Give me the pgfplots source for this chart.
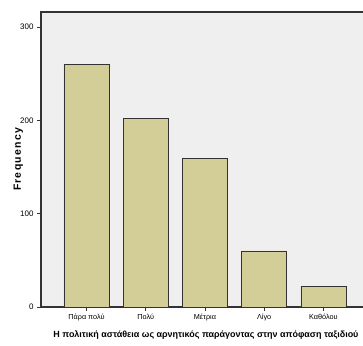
\documentclass[border=0pt]{standalone}
\usepackage{fontspec}
\setmainfont{Liberation Sans}
\usepackage{pgfplots}
\pgfplotsset{compat=1.18}
\definecolor{barfill}{HTML}{D3CE98}
\definecolor{bgc}{HTML}{EFEFEF}
\definecolor{axc}{HTML}{333333}
\begin{document}
\begin{tikzpicture}[x=1bp,y=1bp]
\begin{axis}[
 at={(0,0)}, anchor=south west,
 width=324bp, height=295bp, scale only axis,
 xmin=-0.767, xmax=4.701, ymin=0, ymax=316,
 axis background/.style={fill=bgc},
 axis line style={axc, line width=1.2bp},
 ytick={0,100,200,300}, xtick={0,1,2,3,4},
 xticklabels={Πάρα πολύ, Πολύ, Μέτρια, Λίγο, Καθόλου},
 tick align=outside, tick style={axc, line width=0.8bp}, major tick length=4bp,
 xtick pos=bottom, ytick pos=left,
 xticklabel style={font=\fontsize{7.3}{8}\selectfont},
 yticklabel style={font=\fontsize{8}{9}\selectfont},
 /pgf/number format/assume math mode=true,
 xlabel={Η πολιτική αστάθεια ως αρνητικός παράγοντας στην απόφαση ταξιδιού},
 ylabel={Frequency},
 xlabel style={font=\bfseries\fontsize{9}{10}\selectfont, at={(axis description cs:0.509,-0.095)}, anchor=center},
 ylabel style={font=\bfseries\fontsize{10.5}{12}\selectfont\addfontfeature{LetterSpace=12}, at={(axis description cs:-0.07,0.5)}, anchor=center},
]
\addplot[ybar, bar width=45bp, fill=barfill, draw=axc, line width=0.8bp] coordinates {(0,260) (1,202) (2,159) (3,60) (4,22)};
\end{axis}
\pgfresetboundingbox
\path (-41bp,-39bp) rectangle (322bp,307bp);
\end{tikzpicture}
\end{document}
